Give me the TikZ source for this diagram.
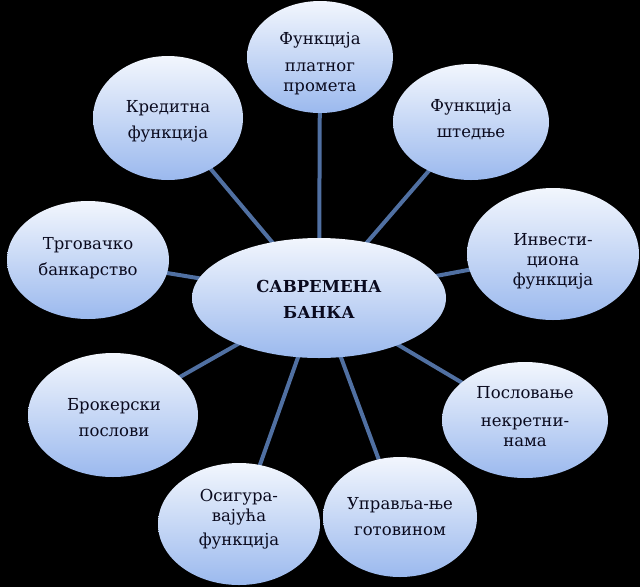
\documentclass[tikz,border=0pt]{standalone}
\usepackage{fontspec}
\setmainfont{DejaVu Serif}
\newfontfamily\tnr{DejaVu Serif}
\usetikzlibrary{backgrounds,shapes.geometric}
\definecolor{linkblue}{RGB}{80,112,162}
\definecolor{topfill}{RGB}{242,246,253}
\definecolor{botfill}{RGB}{155,185,238}
\definecolor{txt}{RGB}{10,10,30}
\begin{document}
\begin{tikzpicture}[x=1pt,y=-1pt,
  bubble/.style={ellipse,inner sep=0pt,top color=topfill,bottom color=botfill,draw=none},
  lbl/.style={align=center,text=txt,font=\tnr\fontsize{16.5}{26}\selectfont},
  lblt/.style={align=center,text=txt,font=\tnr\fontsize{16.5}{20}\selectfont},
  link/.style={draw=linkblue,line width=4pt}]
\useasboundingbox (0,0) rectangle (640,587);
\node[bubble,minimum width=254,minimum height=120] (c) at (319,298) {};
\node[bubble,minimum width=146,minimum height=112] (n1) at (320,57) {};
\node[bubble,minimum width=150,minimum height=124] (n2) at (168,118) {};
\node[bubble,minimum width=156,minimum height=116] (n3) at (471,122) {};
\node[bubble,minimum width=162,minimum height=118] (n4) at (88,260) {};
\node[bubble,minimum width=172,minimum height=132] (n5) at (553,254) {};
\node[bubble,minimum width=170,minimum height=124] (n6) at (113,415) {};
\node[bubble,minimum width=166,minimum height=116] (n7) at (525,420) {};
\node[bubble,minimum width=162,minimum height=122] (n8) at (239,524) {};
\node[bubble,minimum width=154,minimum height=120] (n9) at (400,517) {};
\node[align=center,text=txt,font=\tnr\fontsize{16.5}{26}\selectfont\bfseries] (tc) at (319,299) {САВРЕМЕНА\\БАНКА};
\node[lblt] (t1) at (320,64) {Функција\\[7pt]платног\\промета};
\node[lbl] (t2) at (168,121) {Кредитна\\функција};
\node[lbl] (t3) at (471,120) {Функција\\штедње};
\node[lbl] (t4) at (88,258) {Трговачко\\банкарство};
\node[lblt] (t5) at (553,261) {Инвести-\\циона\\функција};
\node[lbl] (t6) at (114,418) {Брокерски\\послови};
\node[lblt] (t7) at (525,417) {Пословање\\[8pt]некретни-\\нама};
\node[lblt] (t8) at (239,519) {Осигура-\\вајућа\\[4pt]функција};
\node[lbl] (t9) at (400,517) {Управља-ње\\готовином};
\begin{scope}[on background layer]
\fill[black] (0,0) rectangle (640,587);
\foreach \n in {n1,n2,n3,n4,n5,n6,n7,n8,n9}
  \draw[link] (c.center) -- (\n.center);
\end{scope}
\end{tikzpicture}
\end{document}
